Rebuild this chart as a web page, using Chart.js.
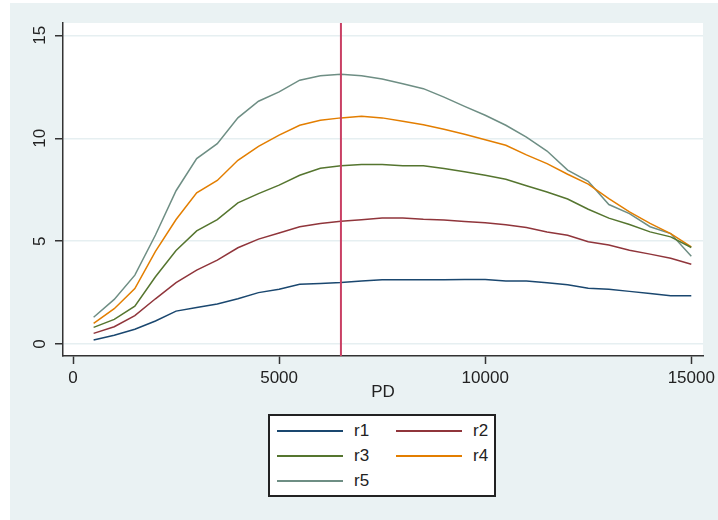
<!DOCTYPE html>
<html>
<head>
<meta charset="utf-8">
<script src="https://cdn.jsdelivr.net/npm/chart.js@4.4.0/dist/chart.umd.min.js"></script>
<style>
  body { margin: 0; background: #fff; font-family: "Liberation Sans", Arial, sans-serif; }
  #frame { position: absolute; left: 10px; top: 3px; width: 708px; height: 517px; background: #eaf2f3; }
  #frame canvas { position: absolute; left: 0; top: 0; }
  #legend {
    position: absolute; left: 258px; top: 411px; width: 228px; height: 83px;
    box-sizing: border-box; border: 2px solid #222; background: #fff;
    padding: 2px 0 0 7px;
    display: grid; grid-template-columns: 119px auto; grid-auto-rows: 25px;
    font-size: 17px; color: #222;
  }
  #legend .item { display: flex; align-items: center; }
  #legend .swatch { width: 66px; height: 2px; margin-right: 11px; }
</style>
</head>
<body>
<div id="frame">
  <canvas id="chart" width="708" height="517"></canvas>
  <div id="legend"></div>
</div>
<script>
// PD grid and the five r curves
const pd = [500, 1000, 1500, 2000, 2500, 3000, 3500, 4000, 4500, 5000,
            5500, 6000, 6500, 7000, 7500, 8000, 8500, 9000, 9500, 10000,
            10500, 11000, 11500, 12000, 12500, 13000, 13500, 14000, 14500, 15000];

const r1 = [0.2, 0.43, 0.72, 1.12, 1.6, 1.78, 1.95, 2.2, 2.5, 2.66,
            2.91, 2.94, 2.99, 3.07, 3.12, 3.12, 3.12, 3.12, 3.14, 3.14,
            3.07, 3.07, 2.98, 2.88, 2.71, 2.66, 2.56, 2.46, 2.35, 2.35];
const r2 = [0.52, 0.84, 1.38, 2.2, 2.98, 3.59, 4.08, 4.68, 5.1, 5.4,
            5.7, 5.86, 5.97, 6.04, 6.12, 6.12, 6.06, 6.03, 5.96, 5.89,
            5.8, 5.66, 5.45, 5.29, 4.97, 4.81, 4.56, 4.37, 4.17, 3.88];
const r3 = [0.81, 1.2, 1.84, 3.27, 4.55, 5.5, 6.05, 6.86, 7.31, 7.72,
            8.2, 8.54, 8.66, 8.72, 8.72, 8.66, 8.66, 8.53, 8.37, 8.2,
            8.01, 7.69, 7.39, 7.05, 6.55, 6.12, 5.81, 5.45, 5.21, 4.69];
const r4 = [1.0, 1.72, 2.7, 4.5, 6.05, 7.35, 7.95, 8.93, 9.61, 10.15,
            10.63, 10.87, 10.99, 11.07, 10.99, 10.83, 10.66, 10.44, 10.19, 9.93,
            9.66, 9.19, 8.77, 8.25, 7.77, 7.07, 6.42, 5.86, 5.37, 4.72];
const r5 = [1.3, 2.17, 3.35, 5.3, 7.45, 9.01, 9.74, 10.99, 11.8, 12.25,
            12.82, 13.04, 13.11, 13.04, 12.88, 12.65, 12.41, 12.0, 11.55, 11.12,
            10.63, 10.06, 9.38, 8.45, 7.91, 6.78, 6.34, 5.7, 5.37, 4.27];

const seriesNames = ['r1', 'r2', 'r3', 'r4', 'r5'];
const seriesValues = [r1, r2, r3, r4, r5];
const seriesColors = ['#1a476f', '#90353b', '#55752f', '#e37e00', '#6e8e84'];

const xTicks = [0, 5000, 10000, 15000];
const yTicks = [0, 5, 10, 15];
const markerPD = 6500;

const axisFont = { family: '"Liberation Sans", Arial, sans-serif', size: 17 };
const textColor = '#222';

const datasets = seriesNames.map((name, i) => ({
    label: name,
    data: pd.map((x, j) => ({ x, y: seriesValues[i][j] })),
    borderColor: seriesColors[i],
    borderWidth: 1.5,
    pointRadius: 0,
    tension: 0,
    fill: false
}));

// white plot region, vertical reference line, rotated y labels
const stataLook = {
    id: 'stataLook',
    beforeDraw(chart) {
        const { ctx, chartArea: a } = chart;
        ctx.save();
        ctx.fillStyle = '#fff';
        ctx.fillRect(a.left, a.top, a.right - a.left, a.bottom - a.top);
        ctx.restore();
    },
    afterDatasetsDraw(chart) {
        const { ctx, chartArea: a, scales } = chart;
        const x = scales.x.getPixelForValue(markerPD);
        ctx.save();
        ctx.strokeStyle = '#c94064';
        ctx.lineWidth = 2;
        ctx.beginPath();
        ctx.moveTo(x, a.top);
        ctx.lineTo(x, a.bottom);
        ctx.stroke();
        ctx.restore();
    },
    afterDraw(chart) {
        const { ctx, scales } = chart;
        ctx.save();
        ctx.fillStyle = textColor;
        ctx.font = axisFont.size + 'px ' + axisFont.family;
        ctx.textAlign = 'center';
        ctx.textBaseline = 'middle';
        yTicks.forEach(v => {
            const y = scales.y.getPixelForValue(v);
            ctx.save();
            ctx.translate(30, y);
            ctx.rotate(-Math.PI / 2);
            ctx.fillText(String(v), 0, 0);
            ctx.restore();
        });
        ctx.restore();
    }
};

new Chart(document.getElementById('chart'), {
    type: 'line',
    data: { datasets },
    options: {
        responsive: false,
        animation: false,
        layout: { padding: { top: 20, right: 15, left: 0, bottom: 117 } },
        plugins: { legend: { display: false }, tooltip: { enabled: false } },
        scales: {
            x: {
                type: 'linear',
                min: -243,
                max: 15284,
                afterBuildTicks: s => { s.ticks = xTicks.map(v => ({ value: v })); },
                afterFit: s => { s.height = 47; s.paddingLeft = 0; s.paddingRight = 0; },
                border: { color: '#333', width: 1.5 },
                grid: { drawOnChartArea: false, drawTicks: true, tickLength: 8, tickColor: '#333', tickWidth: 1.5 },
                ticks: { font: axisFont, color: textColor, padding: 4, maxRotation: 0, autoSkip: false,
                         callback: v => String(v) },
                title: { display: true, text: 'PD', font: axisFont, color: textColor, padding: { top: 0, bottom: 0 } }
            },
            y: {
                min: -0.58,
                max: 15.6,
                afterBuildTicks: s => { s.ticks = yTicks.map(v => ({ value: v })); },
                afterFit: s => { s.width = 53; },
                border: { color: '#333', width: 1.5 },
                grid: { color: '#e6eff1', lineWidth: 1.5, drawTicks: true, tickLength: 8, tickColor: '#333', tickWidth: 1.5 },
                ticks: { display: false }
            }
        }
    },
    plugins: [stataLook]
});

// legend box, two columns
const legend = document.getElementById('legend');
seriesNames.forEach((name, i) => {
    const item = document.createElement('div');
    item.className = 'item';
    const sw = document.createElement('span');
    sw.className = 'swatch';
    sw.style.background = seriesColors[i];
    const label = document.createElement('span');
    label.textContent = name;
    item.appendChild(sw);
    item.appendChild(label);
    legend.appendChild(item);
});
</script>
</body>
</html>
